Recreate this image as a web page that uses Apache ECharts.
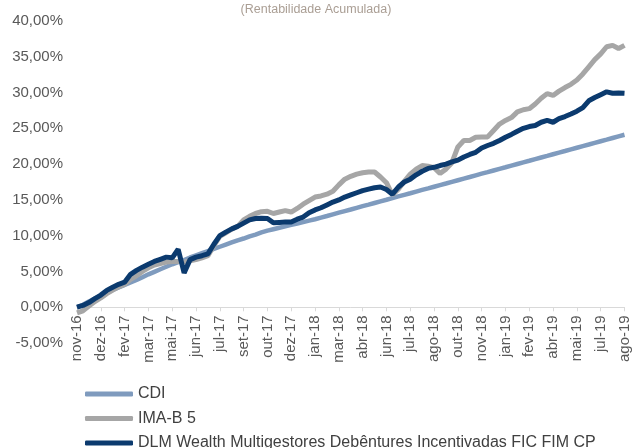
<!DOCTYPE html>
<html>
<head>
<meta charset="utf-8">
<script src="https://cdn.jsdelivr.net/npm/echarts@6/dist/echarts.min.js"></script>
<style>
  html, body { margin: 0; padding: 0; background: #fff; }
  #main { width: 632px; height: 448px; }
</style>
</head>
<body>
<div id="main"></div>
<script>
// rótulos do eixo x (um a cada 4 pontos)
var tickLabels = ["nov-16", "dez-16", "fev-17", "mar-17", "mai-17", "jun-17", "jul-17", "set-17",
  "out-17", "dez-17", "jan-18", "mar-18", "abr-18", "jun-18", "jul-18", "ago-18", "out-18",
  "nov-18", "jan-19", "fev-19", "abr-19", "mai-19", "jul-19", "ago-19"];
var pointsPerTick = 4;

// rentabilidade acumulada (%)
var cdi = [0.0, 0.35, 0.8, 1.2, 1.6, 2.0, 2.4, 2.75, 3.1, 3.45,
  3.8, 4.2, 4.6, 4.95, 5.3, 5.65, 6.0, 6.3, 6.6, 6.95,
  7.25, 7.55, 7.85, 8.15, 8.45, 8.75, 9.05, 9.35, 9.6, 9.9,
  10.15, 10.45, 10.7, 10.9, 11.1, 11.3, 11.5, 11.7, 11.9, 12.1,
  12.3, 12.53, 12.75, 12.98, 13.21, 13.44, 13.66, 13.89, 14.12, 14.34,
  14.57, 14.8, 15.02, 15.25, 15.48, 15.71, 15.93, 16.16, 16.39, 16.61,
  16.84, 17.07, 17.29, 17.52, 17.75, 17.98, 18.2, 18.43, 18.66, 18.88,
  19.11, 19.34, 19.56, 19.79, 20.02, 20.25, 20.47, 20.7, 20.93, 21.15,
  21.38, 21.61, 21.83, 22.06, 22.29, 22.52, 22.74, 22.97, 23.2, 23.42,
  23.65, 23.88, 24.1];

var imab5 = [-0.8, -0.5, 0.15, 0.8, 1.3, 1.9, 2.4, 2.85, 3.2, 3.9,
  4.4, 5.0, 5.5, 5.9, 6.1, 6.3, 6.4, 6.4, 6.3, 6.5,
  6.65, 6.9, 7.2, 8.6, 9.9, 10.4, 10.9, 11.3, 12.2, 12.7,
  13.1, 13.35, 13.4, 13.1, 13.3, 13.5, 13.3, 13.8, 14.4, 14.9,
  15.4, 15.55, 15.8, 16.2, 17.1, 17.9, 18.3, 18.6, 18.8, 18.9,
  18.9, 18.2, 17.4, 15.7, 16.5, 17.6, 18.6, 19.3, 19.8, 19.7,
  19.5, 18.7, 19.3, 20.2, 22.4, 23.3, 23.3, 23.75, 23.8, 23.8,
  24.7, 25.6, 26.1, 26.5, 27.3, 27.6, 27.75, 28.4, 29.2, 29.85,
  29.6, 30.2, 30.7, 31.15, 31.75, 32.6, 33.6, 34.6, 35.4, 36.4,
  36.6, 36.15, 36.6];

var dlm = [0.0, 0.25, 0.65, 1.2, 1.7, 2.35, 2.8, 3.2, 3.5, 4.6,
  5.15, 5.6, 6.0, 6.4, 6.7, 7.0, 6.9, 8.1, 4.8, 6.65,
  7.0, 7.2, 7.45, 8.8, 10.0, 10.5, 10.95, 11.3, 11.75, 12.2,
  12.4, 12.45, 12.4, 11.8, 11.85, 11.9, 11.9, 12.3, 12.6, 13.2,
  13.6, 13.9, 14.3, 14.7, 15.0, 15.4, 15.7, 16.0, 16.3, 16.5,
  16.7, 16.8, 16.45, 15.8, 16.8, 17.5, 17.9, 18.5, 19.0, 19.4,
  19.55, 19.8, 20.0, 20.3, 20.55, 21.0, 21.35, 21.65, 22.25, 22.6,
  22.9, 23.3, 23.75, 24.15, 24.6, 25.0, 25.25, 25.4, 25.85, 26.1,
  25.85, 26.35, 26.65, 27.0, 27.4, 27.9, 28.85, 29.3, 29.7, 30.1,
  29.9, 29.95, 29.9];

var categories = [];
for (var i = 0; i < cdi.length; i++) categories.push(String(i));

var font = "'Liberation Sans', Arial, sans-serif";

var myChart = echarts.init(document.getElementById("main"));
myChart.setOption({
  animation: false,
  title: {
    text: "(Rentabilidade Acumulada)",
    left: "center",
    top: -2,
    textStyle: { fontSize: 12.5, fontWeight: "normal", color: "#aa9e94", fontFamily: font }
  },
  grid: { left: 77, right: 3, top: 21, bottom: 105, containLabel: false },
  legend: {
    orient: "vertical",
    left: 80,
    top: 381,
    height: 120,
    itemWidth: 48,
    itemHeight: 5,
    itemGap: 8.5,
    icon: "roundRect",
    textStyle: { fontSize: 16, color: "#404040", fontFamily: font },
    data: ["CDI", "IMA-B 5", "DLM Wealth Multigestores Debêntures Incentivadas FIC FIM CP"]
  },
  xAxis: {
    type: "category",
    boundaryGap: false,
    data: categories,
    // eixo na linha do 0%, acima do -5%
    offset: -35.7,
    axisLine: { onZero: false, lineStyle: { color: "#d9d9d9", width: 1 } },
    axisTick: { show: true, interval: pointsPerTick - 1, length: 4, lineStyle: { color: "#d9d9d9" } },
    axisLabel: {
      interval: pointsPerTick - 1,
      rotate: 90,
      margin: 8,
      fontSize: 15,
      color: "#595959",
      fontFamily: font,
      formatter: function (v, idx) { return tickLabels[idx / pointsPerTick] || ""; }
    },
    splitLine: { show: false }
  },
  yAxis: {
    type: "value",
    min: -5,
    max: 40,
    interval: 5,
    axisLine: { show: false },
    axisTick: { show: false },
    splitLine: { show: false },
    axisLabel: {
      margin: 14,
      fontSize: 15,
      color: "#595959",
      fontFamily: font,
      formatter: function (v) { return v.toFixed(2).replace(".", ",") + "%"; }
    }
  },
  series: [
    {
      name: "CDI",
      type: "line",
      symbol: "none",
      data: cdi,
      itemStyle: { color: "#7f9bbe" },
      lineStyle: { color: "#7f9bbe", width: 4.5 }
    },
    {
      name: "IMA-B 5",
      type: "line",
      symbol: "none",
      data: imab5,
      itemStyle: { color: "#a6a6a6" },
      lineStyle: { color: "#a6a6a6", width: 5 }
    },
    {
      name: "DLM Wealth Multigestores Debêntures Incentivadas FIC FIM CP",
      type: "line",
      symbol: "none",
      data: dlm,
      itemStyle: { color: "#0b3a6e" },
      lineStyle: { color: "#0b3a6e", width: 5 }
    }
  ]
});
</script>
</body>
</html>
